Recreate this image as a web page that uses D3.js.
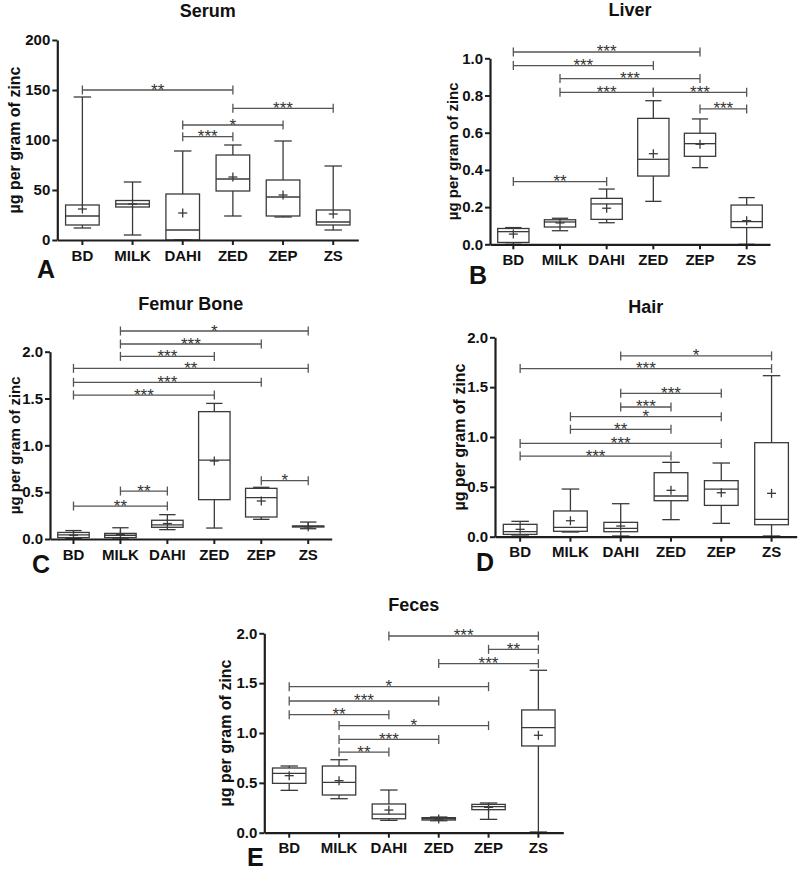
<!DOCTYPE html>
<html><head><meta charset="utf-8">
<script src="https://cdn.jsdelivr.net/npm/d3@7"></script>
<style>
body{margin:0;background:#fff;}
svg text{font-family:"Liberation Sans", Arial, Helvetica, sans-serif;}
</style></head><body>
<svg id="chart" width="800" height="871"></svg>
<script>
const categories = ["BD","MILK","DAHI","ZED","ZEP","ZS"];

// each row: [min, q1, median, q3, max, mean]
const serumStats = [[12,15,24,35,143,31],[5,33,36,39.5,58,36],[0,0,10,46,89,27],[24,49,61,85,95,63],[23,24,43,60,99,45],[10,15,18,30,74,26]];
const liverStats = [[0,0.01,0.068,0.085,0.09,0.055],[0.073,0.093,0.12,0.132,0.14,0.115],[0.116,0.134,0.217,0.247,0.297,0.194],[0.231,0.367,0.457,0.677,0.772,0.487],[0.412,0.473,0.541,0.597,0.674,0.538],[0,0.09,0.122,0.211,0.251,0.127]];
const femurStats = [[0.005,0.015,0.045,0.07,0.09,0.04],[0,0.015,0.04,0.06,0.12,0.05],[0.1,0.125,0.15,0.2,0.26,0.165],[0.117,0.42,0.843,1.36,1.448,0.833],[0.21,0.235,0.441,0.541,0.552,0.406],[0.11,0.128,0.135,0.139,0.181,0.13]];
const hairStats = [[0.017,0.023,0.05,0.124,0.154,0.074],[0.047,0.054,0.094,0.258,0.478,0.16],[0.007,0.05,0.084,0.144,0.331,0.107],[0.171,0.361,0.408,0.642,0.746,0.465],[0.134,0.314,0.478,0.562,0.739,0.441],[0.007,0.12,0.174,0.943,1.615,0.435]];
const fecesStats = [[0.425,0.495,0.595,0.649,0.669,0.572],[0.341,0.378,0.505,0.669,0.732,0.522],[0.124,0.14,0.187,0.288,0.428,0.227],[0.12,0.127,0.14,0.151,0.157,0.137],[0.134,0.231,0.261,0.284,0.298,0.254],[0.007,0.87,1.054,1.231,1.629,0.977]];

// significance brackets: [from, to, level, stars]
const serumSig = [["BD","ZED",150,"**"],["ZED","ZS",131.7,"***"],["DAHI","ZEP",115,"*"],["DAHI","ZED",103.3,"***"]];
const liverSig = [["BD","ZEP",1.034,"***"],["BD","ZED",0.961,"***"],["MILK","ZEP",0.891,"***"],["MILK","ZED",0.817,"***"],["ZED","ZS",0.817,"***"],["ZEP","ZS",0.728,"***"],["BD","DAHI",0.337,"**"]];
const femurSig = [["MILK","ZS",2.221,"*"],["MILK","ZEP",2.082,"***"],["MILK","ZED",1.95,"***"],["BD","ZS",1.822,"**"],["BD","ZEP",1.673,"***"],["BD","ZED",1.537,"***"],["ZEP","ZS",0.623,"*"],["MILK","DAHI",0.512,"**"],["BD","DAHI",0.352,"**"]];
const hairSig = [["DAHI","ZS",1.813,"*"],["BD","ZS",1.686,"***"],["DAHI","ZEP",1.438,"***"],["DAHI","ZED",1.301,"***"],["MILK","ZEP",1.204,"*"],["MILK","ZED",1.077,"**"],["BD","ZEP",0.936,"***"],["BD","ZED",0.809,"***"]];
const fecesSig = [["DAHI","ZS",1.973,"***"],["ZEP","ZS",1.839,"**"],["ZED","ZS",1.696,"***"],["BD","ZEP",1.465,"*"],["BD","ZED",1.321,"***"],["BD","DAHI",1.184,"**"],["MILK","ZEP",1.074,"*"],["MILK","ZED",0.936,"***"],["MILK","DAHI",0.809,"**"]];

// tick values
const serumTicks = [0,50,100,150,200];
const liverTicks = [0,0.2,0.4,0.6,0.8,1.0];
const twoTicks = [0,0.5,1.0,1.5,2.0];

const titles = ["Serum","Liver","Femur Bone","Hair","Feces"];
const letters = ["A","B","C","D","E"];
const yLabel = "µg per gram of zinc";

// layout (positions only)
const layout = [
  {stats:serumStats, sig:serumSig, ticks:serumTicks, fmt:d3.format("d"), x0:57.3, x1:358.3, yTop:40, yBot:240, titleY:16.7, labX:19.5, labSize:16, letX:37, letY:278},
  {stats:liverStats, sig:liverSig, ticks:liverTicks, fmt:d3.format(".1f"), x0:490, x1:770, yTop:58.3, yBot:244.3, titleY:16, labX:457.5, labSize:15, letX:469, letY:284},
  {stats:femurStats, sig:femurSig, ticks:twoTicks, fmt:d3.format(".1f"), x0:50, x1:331.7, yTop:351.7, yBot:539, titleY:310, labX:19.5, labSize:15, letX:32, letY:573},
  {stats:hairStats, sig:hairSig, ticks:twoTicks, fmt:d3.format(".1f"), x0:495, x1:796.7, yTop:337.3, yBot:536.7, titleY:312.7, labX:464.5, labSize:16, letX:476, letY:570.5},
  {stats:fecesStats, sig:fecesSig, ticks:twoTicks, fmt:d3.format(".1f"), x0:264.3, x1:563.3, yTop:633.3, yBot:832.7, titleY:610.7, labX:231, labSize:16, letX:247, letY:866}
];

const svg = d3.select("#chart");
svg.append("rect").attr("width",800).attr("height",871).attr("fill","#fff");

const axisColor = "#1e1e1e", boxColor = "#3a3a3a", sigColor = "#555";

layout.forEach((cfg, pi) => {
  const g = svg.append("g");
  const ticks = cfg.ticks;
  const x = d3.scaleBand().domain(categories).range([cfg.x0, cfg.x1]);
  const y = d3.scaleLinear().domain([0, ticks[ticks.length-1]]).range([cfg.yBot, cfg.yTop]);
  const bw = x.bandwidth();
  const cx = c => x(c) + bw/2;

  g.append("text").attr("x",(cfg.x0+cfg.x1)/2).attr("y",cfg.titleY)
    .attr("text-anchor","middle").attr("font-size",18).attr("font-weight","bold").attr("fill","#111")
    .text(titles[pi]);

  g.append("text").attr("transform",`translate(${cfg.labX},${(cfg.yTop+cfg.yBot)/2}) rotate(-90)`)
    .attr("text-anchor","middle").attr("font-size",cfg.labSize).attr("font-weight","bold").attr("fill","#111")
    .text(yLabel);

  g.append("text").attr("x",cfg.letX).attr("y",cfg.letY).attr("font-size",25).attr("font-weight","bold").attr("fill","#111")
    .text(letters[pi]);

  const bx = bw*0.67, cap = bx*0.52, plus = 4.5;
  cfg.stats.forEach((s, i) => {
    const c = cx(categories[i]);
    const [mn,q1,md,q3,mx,mean] = s;
    const bg = g.append("g").attr("stroke",boxColor).attr("stroke-width",1.3).attr("fill","none");
    bg.append("line").attr("x1",c).attr("x2",c).attr("y1",y(mx)).attr("y2",y(q3));
    bg.append("line").attr("x1",c).attr("x2",c).attr("y1",y(q1)).attr("y2",y(mn));
    bg.append("line").attr("x1",c-cap/2).attr("x2",c+cap/2).attr("y1",y(mx)).attr("y2",y(mx));
    bg.append("line").attr("x1",c-cap/2).attr("x2",c+cap/2).attr("y1",y(mn)).attr("y2",y(mn));
    bg.append("rect").attr("x",c-bx/2).attr("width",bx).attr("y",y(q3)).attr("height",Math.max(0.5,y(q1)-y(q3)));
    bg.append("line").attr("x1",c-bx/2).attr("x2",c+bx/2).attr("y1",y(md)).attr("y2",y(md));
    bg.append("line").attr("x1",c-plus).attr("x2",c+plus).attr("y1",y(mean)).attr("y2",y(mean));
    bg.append("line").attr("x1",c).attr("x2",c).attr("y1",y(mean)-plus).attr("y2",y(mean)+plus);
  });

  cfg.sig.forEach(([a,b,v,stars]) => {
    const xa = cx(a), xb = cx(b), yy = y(v);
    const sg = g.append("g").attr("stroke",sigColor).attr("stroke-width",1.3);
    sg.append("line").attr("x1",xa).attr("x2",xb).attr("y1",yy).attr("y2",yy);
    sg.append("line").attr("x1",xa).attr("x2",xa).attr("y1",yy-4.5).attr("y2",yy+4.5);
    sg.append("line").attr("x1",xb).attr("x2",xb).attr("y1",yy-4.5).attr("y2",yy+4.5);
    g.append("text").attr("x",(xa+xb)/2).attr("y",yy+5.5).attr("text-anchor","middle")
      .attr("font-size",17).attr("fill","#333").attr("opacity",0.99).text(stars);
  });

  const ya = g.append("g").attr("transform",`translate(${cfg.x0},0)`)
    .call(d3.axisLeft(y).tickValues(ticks).tickFormat(cfg.fmt).tickSize(5).tickPadding(2).tickSizeOuter(0));
  const xa = g.append("g").attr("transform",`translate(0,${cfg.yBot})`)
    .call(d3.axisBottom(x).tickSize(5).tickPadding(5).tickSizeOuter(0));
  [ya, xa].forEach(ax => {
    ax.select(".domain").attr("stroke",axisColor).attr("stroke-width",2.2);
    ax.selectAll(".tick line").attr("stroke",axisColor).attr("stroke-width",2);
    ax.selectAll(".tick text").attr("font-size",15).attr("font-weight","bold").attr("fill","#111")
      .attr("font-family","'Liberation Sans', Arial, sans-serif");
  });
});
</script>
</body></html>
